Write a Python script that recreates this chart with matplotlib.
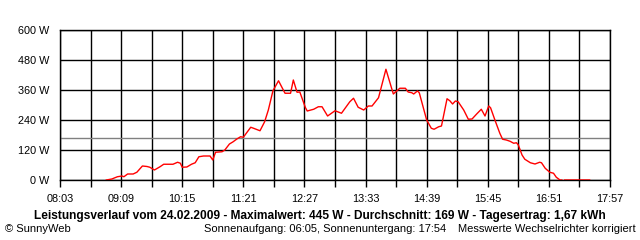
import numpy as np
import matplotlib
matplotlib.use("Agg")
import matplotlib.pyplot as plt

# time in minutes since midnight, power in W
times = [533, 539, 545, 550, 552, 556, 562, 566, 572, 577, 580, 585, 591, 595, 605, 610,
         613, 615, 620, 625, 629, 633, 638, 645, 648, 651, 658, 661, 666, 670, 674, 678,
         681, 689, 692, 699, 704, 708, 713, 719, 726, 732, 735, 739, 742, 748, 750, 757,
         762, 766, 772, 780, 787, 796, 800, 805, 811, 816, 820, 827, 835, 843, 850, 856,
         859, 863, 865, 869, 871, 879, 884, 887, 892, 895, 901, 904, 907, 910, 913, 919,
         924, 928, 933, 938, 942, 946, 948, 953, 956, 958, 961, 965, 969, 973, 976, 978,
         982, 985, 991, 996, 1001, 1003, 1007, 1012, 1016, 1019, 1023, 1025, 1026, 1028, 1055]
power = [0, 4, 13, 16, 13, 24, 24, 31, 56, 54, 51, 40, 53, 63, 63, 71,
         67, 51, 52, 63, 69, 93, 96, 96, 80, 111, 113, 120, 144, 153, 164, 173,
         171, 211, 207, 197, 233, 280, 357, 397, 347, 347, 400, 351, 352, 290, 276, 283,
         293, 293, 256, 277, 267, 313, 327, 291, 280, 296, 296, 329, 443, 344, 367, 367,
         352, 349, 344, 356, 349, 240, 207, 203, 213, 216, 325, 317, 304, 316, 313, 280,
         243, 244, 264, 283, 256, 296, 289, 237, 207, 187, 163, 160, 155, 147, 149, 140,
         100, 83, 69, 64, 71, 69, 47, 31, 27, 11, 0, 0, np.nan, 0, 0]
average = 169
xtick_minutes = [483 + 33 * i for i in range(19)]
xtick_labels = ["08:03", "", "09:09", "", "10:15", "", "11:21", "", "12:27", "", "13:33", "",
                "14:39", "", "15:45", "", "16:51", "", "17:57"]
yticks = [0, 120, 240, 360, 480, 600]
ytick_labels = ["0 W", "120 W", "240 W", "360 W", "480 W", "600 W"]

title = "Leistungsverlauf vom 24.02.2009 - Maximalwert: 445 W - Durchschnitt: 169 W - Tagesertrag: 1,67 kWh"
left_note = "© SunnyWeb"
mid_note = "Sonnenaufgang: 06:05, Sonnenuntergang: 17:54"
right_note = "Messwerte Wechselrichter korrigiert"

plt.rcParams['font.family'] = ['Liberation Sans', 'DejaVu Sans']

W, H = 640, 240
fig = plt.figure(figsize=(W / 100, H / 100), dpi=100)
ax = fig.add_axes([60 / W, 60 / H, 550 / W, 150 / H])

ax.set_xlim(483, 1077)
ax.set_ylim(0, 600)
ax.set_xticks(xtick_minutes)
ax.set_xticklabels(xtick_labels)
ax.set_yticks(yticks)
ax.set_yticklabels(ytick_labels)
ax.tick_params(axis='x', length=5, width=1, color='black', pad=5, labelsize=7.8)
ax.tick_params(axis='y', length=0, pad=8, labelsize=7.8)
ax.grid(True, color='black', linewidth=1)
ax.set_axisbelow(True)
for s in ax.spines.values():
    s.set_color('black')
    s.set_linewidth(1)

ax.axhline(average, color='#808080', linewidth=1, zorder=2)
ax.plot(times, power, color='red', linewidth=1, zorder=3)

fig.text(320 / W, 1 - 216 / H, title, ha='center', va='center', fontsize=8.6, fontweight='bold')
fig.text(5 / W, 1 - 229 / H, left_note, ha='left', va='center', fontsize=8)
fig.text(446 / W, 1 - 229 / H, mid_note, ha='right', va='center', fontsize=8)
fig.text(636 / W, 1 - 229 / H, right_note, ha='right', va='center', fontsize=8)

fig.savefig("out.png", dpi=100)
